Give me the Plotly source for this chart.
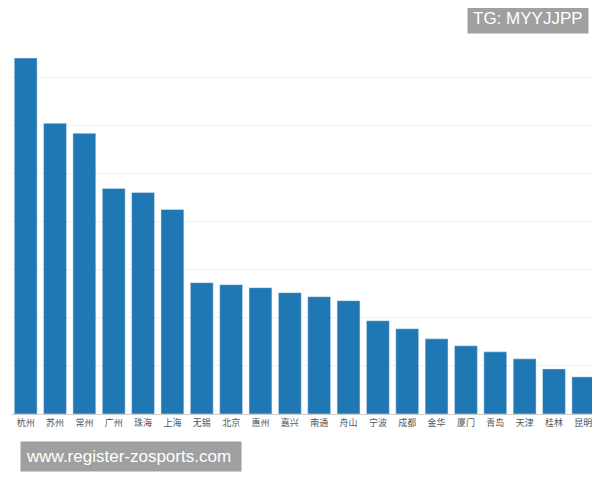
import plotly.graph_objects as go

cities = ["杭州","苏州","常州","广州","珠海","上海","无锡","北京","惠州","嘉兴","南通","舟山","宁波","成都","金华","厦门","青岛","天津","桂林","昆明"]
values = [355,290,280,225,221,204,131,129,126,121,117,113,93,85,75,68,62,55,45,37]

fig = go.Figure(go.Bar(x=cities, y=values, marker_color="#1f77b4", width=0.78))
fig.update_layout(
    width=600, height=480, margin=dict(l=3, r=10, t=22, b=74),
    plot_bgcolor="white", paper_bgcolor="white", showlegend=False, bargap=0.22,
    font=dict(family="Noto Sans CJK SC"),
)
fig.update_yaxes(range=[0, 383], dtick=48, showgrid=True, gridcolor="#f0f0f0",
                 showticklabels=False, zeroline=False)
fig.update_xaxes(tickfont=dict(size=9, color="#555"), showline=True, linecolor="#ccc", ticks="")
fig.add_annotation(xref="paper", yref="paper", x=0.985, y=1.03, xanchor="right", yanchor="middle",
                   text="TG: MYYJJPP", showarrow=False, bgcolor="#a0a0a0",
                   font=dict(color="white", size=17, family="Liberation Sans"), borderpad=5)
fig.add_annotation(xref="paper", yref="paper", x=0.015, y=-0.07, xanchor="left", yanchor="top",
                   text="www.register-zosports.com ", showarrow=False, bgcolor="#a0a0a0",
                   font=dict(color="white", size=17, family="Liberation Sans"), borderpad=5)
fig.write_html("out.html")
